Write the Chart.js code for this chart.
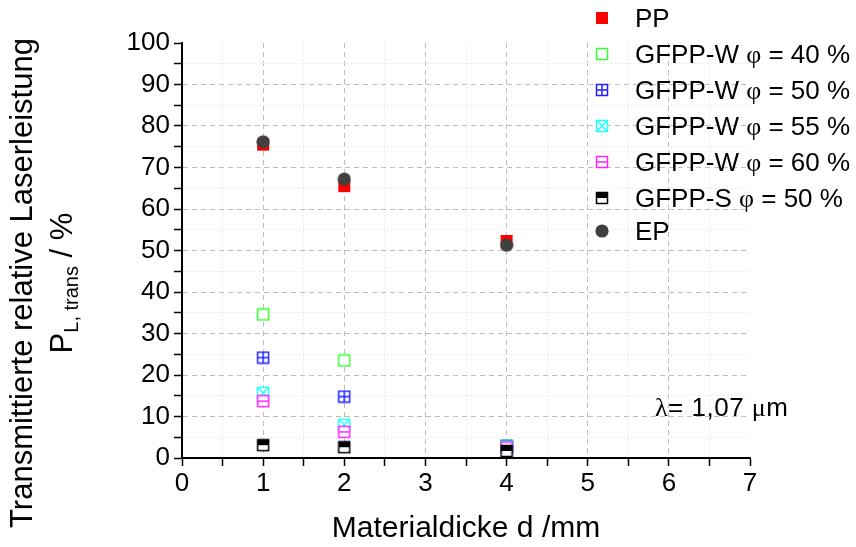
<!DOCTYPE html>
<html>
<head>
<meta charset="utf-8">
<script src="https://cdn.jsdelivr.net/npm/chart.js@4"></script>
<style>
  body { margin: 0; background: #fff; }
  #wrap { position: relative; width: 856px; height: 547px; font-family: "Liberation Sans", Arial, sans-serif; color: #000; }
  canvas#chart { position: absolute; left: 0; top: 0; }
  .sym { font-family: "Liberation Serif", "DejaVu Serif", serif; }
  #legend { position: absolute; left: 590px; top: 0; }
  .lrow { position: absolute; left: 0; height: 36px; white-space: nowrap; font-size: 26px; line-height: 36px; }
  .lrow canvas { position: absolute; left: 5px; top: 11px; }
  .lrow .txt { position: absolute; left: 45px; top: 0; }
  #ytitle { position: absolute; width: 580px; height: 80px; left: -246px; top: 243px; transform: rotate(-90deg); font-size: 31px; text-align: center; }
  #ytitle div { height: 40px; line-height: 36px; white-space: nowrap; }
  #ytitle sub { font-size: 20px; line-height: 0; vertical-align: -6px; }
  #xtitle { position: absolute; left: 182px; width: 568px; top: 507px; font-size: 30px; line-height: 40px; text-align: center; }
  #lambda { position: absolute; left: 655px; top: 392px; font-size: 26px; line-height: 30px; white-space: nowrap; letter-spacing: 0.5px; }
</style>
</head>
<body>
<div id="wrap">
  <canvas id="chart" width="856" height="547"></canvas>
  <div id="ytitle">
    <div>Transmittierte relative Laserleistung</div>
    <div>P<sub>L, trans</sub> / %</div>
  </div>
  <div id="xtitle">Materialdicke d /mm</div>
  <div id="lambda"><span class="sym">λ</span>= 1,07 <span class="sym">μ</span>m</div>
  <div id="legend"></div>
</div>
<script>
// material thickness in mm
const thickness = [1, 2, 4];

// transmitted relative laser power in %
const ppValues   = [75.5, 65.5, 52.3];
const gf40Values = [34.6, 23.5, 3.0];
const gf50Values = [24.2, 14.8, 2.8];
const gf55Values = [15.7, 8.0, 2.7];
const gf60Values = [13.7, 6.3, 2.5];
const gfsValues  = [3.1, 2.6, 1.7];
const epValues   = [76.2, 67.2, 51.3];

const seriesLabels = [
    "PP",
    "GFPP-W φ = 40 %",
    "GFPP-W φ = 50 %",
    "GFPP-W φ = 55 %",
    "GFPP-W φ = 60 %",
    "GFPP-S φ = 50 %",
    "EP"
];

const xTicks = [0, 1, 2, 3, 4, 5, 6, 7];
const yTicks = [0, 10, 20, 30, 40, 50, 60, 70, 80, 90, 100];

// small canvases used as point styles (and again in the legend)
function makeMarker(kind, color) {
    const s = 14;
    const c = document.createElement('canvas');
    c.width = s; c.height = s;
    const g = c.getContext('2d');
    const a = 1.5, b = s - 1.5, w = b - a, m = s / 2;
    g.lineWidth = 1.5;
    g.strokeStyle = color;
    g.fillStyle = color;
    if (kind === 'fill') {
        g.fillRect(1, 1, s - 2, s - 2);
    } else if (kind === 'circle') {
        g.beginPath();
        g.arc(m, m, 6.6, 0, Math.PI * 2);
        g.fill();
    } else {
        g.fillStyle = '#fff';
        g.fillRect(a, a, w, w);
        g.fillStyle = color;
        if (kind === 'half') g.fillRect(a, a, w, w / 2);
        g.strokeRect(a, a, w, w);
        g.beginPath();
        if (kind === 'plus') {
            g.moveTo(m, a); g.lineTo(m, b);
            g.moveTo(a, m); g.lineTo(b, m);
        } else if (kind === 'cross') {
            g.moveTo(a, a); g.lineTo(b, b);
            g.moveTo(b, a); g.lineTo(a, b);
        } else if (kind === 'hline') {
            g.moveTo(a, m); g.lineTo(b, m);
        }
        g.stroke();
    }
    return c;
}

const styles = [
    { kind: 'fill',   color: '#ff0000' },
    { kind: 'open',   color: '#33ff33' },
    { kind: 'plus',   color: '#2020ff' },
    { kind: 'cross',  color: '#20ffff' },
    { kind: 'hline',  color: '#ff20ff' },
    { kind: 'half',   color: '#000000' },
    { kind: 'circle', color: '#404040' }
];
const allValues = [ppValues, gf40Values, gf50Values, gf55Values, gf60Values, gfsValues, epValues];

const datasets = allValues.map((vals, i) => {
    const img = makeMarker(styles[i].kind, styles[i].color);
    return {
        label: seriesLabels[i],
        data: thickness.map((x, j) => ({ x, y: vals[j] })),
        pointStyle: img,
        marker: img,
        order: allValues.length - i,   // later series drawn on top
        showLine: false
    };
});
// EP on top of everything
datasets[6].order = 0;

function gridColor(max) {
    return ctx => {
        const v = ctx.tick ? ctx.tick.value : 0;
        if (v === 0 || v === max) return 'rgba(0,0,0,0)';
        return Number.isInteger(v / (max === 7 ? 1 : 10)) ? '#bdbdbd' : '#e6e6e6';
    };
}
function gridDash(max) {
    return ctx => {
        if (!ctx.tick) return [];
        return Number.isInteger(ctx.tick.value / (max === 7 ? 1 : 10)) ? [5, 4] : [1.5, 2.5];
    };
}

const tickFont = { family: "'Liberation Sans', Arial, sans-serif", size: 26 };

new Chart(document.getElementById('chart'), {
    type: 'scatter',
    data: { datasets },
    options: {
        responsive: false,
        animation: false,
        layout: { padding: { left: 0, top: 43, right: 106, bottom: 0 } },
        plugins: { legend: { display: false }, tooltip: { enabled: false } },
        elements: { point: { radius: 7 } },
        scales: {
            x: {
                type: 'linear',
                min: xTicks[0],
                max: xTicks[xTicks.length - 1],
                afterFit: s => { s.height = 89; },
                ticks: {
                    stepSize: 0.5,
                    autoSkip: false,
                    maxRotation: 0,
                    padding: 2,
                    color: '#000',
                    font: tickFont,
                    callback: v => xTicks.includes(v) ? String(v) : ''
                },
                grid: {
                    color: gridColor(7),
                    tickColor: '#000',
                    tickLength: 8,
                    tickWidth: 1.5,
                    lineWidth: 1
                },
                border: { color: '#000', width: 2, dash: gridDash(7) }
            },
            y: {
                type: 'linear',
                min: yTicks[0],
                max: yTicks[yTicks.length - 1],
                afterFit: s => { s.width = 182; },
                ticks: {
                    stepSize: 5,
                    autoSkip: false,
                    padding: 4,
                    color: '#000',
                    font: tickFont,
                    callback: v => yTicks.includes(v) ? String(v) : ''
                },
                grid: {
                    color: gridColor(100),
                    tickColor: '#000',
                    tickLength: 8,
                    tickWidth: 1.5,
                    lineWidth: 1
                },
                border: { color: '#000', width: 2, dash: gridDash(100) }
            }
        }
    }
});

// legend built from the same labels and markers
const legendEl = document.getElementById('legend');
const rowTops = [0, 36, 72, 108, 144, 180, 213];
datasets.forEach((ds, i) => {
    const row = document.createElement('div');
    row.className = 'lrow';
    row.style.top = rowTops[i] + 'px';
    row.appendChild(ds.marker);
    const txt = document.createElement('span');
    txt.className = 'txt';
    txt.innerHTML = ds.label.replace('φ', '<span class="sym">φ</span>');
    row.appendChild(txt);
    legendEl.appendChild(row);
});
</script>
</body>
</html>
